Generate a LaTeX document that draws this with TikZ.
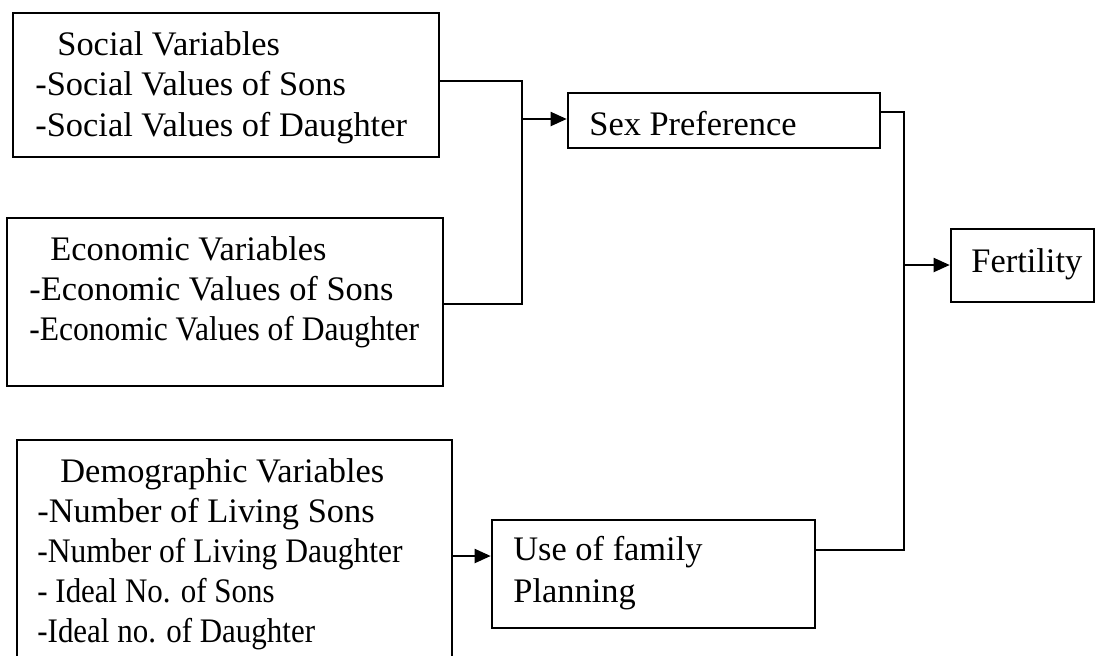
\documentclass[tikz,border=0pt]{standalone}
\usepackage{fontspec}
\usepackage{graphicx}
\setmainfont{Liberation Serif}
\usetikzlibrary{arrows.meta,fit}
\tikzset{
  box/.style={draw, line width=1pt, rectangle, inner sep=0pt},
  txt/.style={inner sep=0pt, anchor=base west, font=\fontsize{17.2pt}{20pt}\selectfont},
  conn/.style={line width=1pt},
  arr/.style={line width=1pt, -{Triangle[length=8pt,width=7pt]}}
}
\newcommand{\cond}[2]{\scalebox{#1}[1]{#2}}
\begin{document}
\begin{tikzpicture}[x=0.5pt,y=-0.5pt]
\useasboundingbox (0,0) rectangle (1098,655);
\clip (0,0) rectangle (1098,655);
% boxes
\node[box, fit={(13.3,12.7)(438.7,156.7)}] (s) {};
\node[box, fit={(7.3,218.3)(442.7,385.7)}] (e) {};
\node[box, fit={(17.3,440)(452.3,680)}] (d) {};
\node[box, fit={(567.7,92.7)(880,147.7)}] (p) {};
\node[box, fit={(491.7,520)(815,628.3)}] (u) {};
\node[box, fit={(950.7,229)(1094,301.7)}] (f) {};
% texts
\node[txt] (s1) at (57,55) {Social Variables};
\node[txt] (s2) at (35,95) {-Social Values of Sons};
\node[txt] (s3) at (35,136) {-Social Values of Daughter};
\node[txt] (e1) at (50,260) {Economic Variables};
\node[txt] (e2) at (29,300) {-Economic Values of Sons};
\node[txt] (e3) at (29,340) {\cond{0.917}{-Economic Values of Daughter}};
\node[txt] (d1) at (60,482) {Demographic Variables};
\node[txt] (d2) at (37,522) {-Number of Living Sons};
\node[txt] (d3) at (37,562) {\cond{0.917}{-Number of Living Daughter}};
\node[txt] (d4) at (37,602) {\cond{0.90}{- Ideal No. of Sons}};
\node[txt] (d5) at (37,642) {\cond{0.90}{-Ideal no. of Daughter}};
\node[txt] (p1) at (589,135) {Sex Preference};
\node[txt] (u1) at (513,560) {Use of family};
\node[txt] (u2) at (513,602) {Planning};
\node[txt] (f1) at (971,272) {Fertility};
% connectors
\coordinate (j1) at (522,119);
\coordinate (j2) at (904,265);
\draw[conn] (s.east |- 0,81) -| (j1);
\draw[conn] (e.east |- 0,304) -| (j1);
\draw[arr] (j1) -- (p.west |- j1);
\draw[conn] (p.east |- 0,112) -| (j2);
\draw[conn] (u.east |- 0,550) -| (j2);
\draw[arr] (j2) -- (f.west |- j2);
\draw[arr] (d.east |- 0,556) -- (u.west |- 0,556);
\end{tikzpicture}
\end{document}
